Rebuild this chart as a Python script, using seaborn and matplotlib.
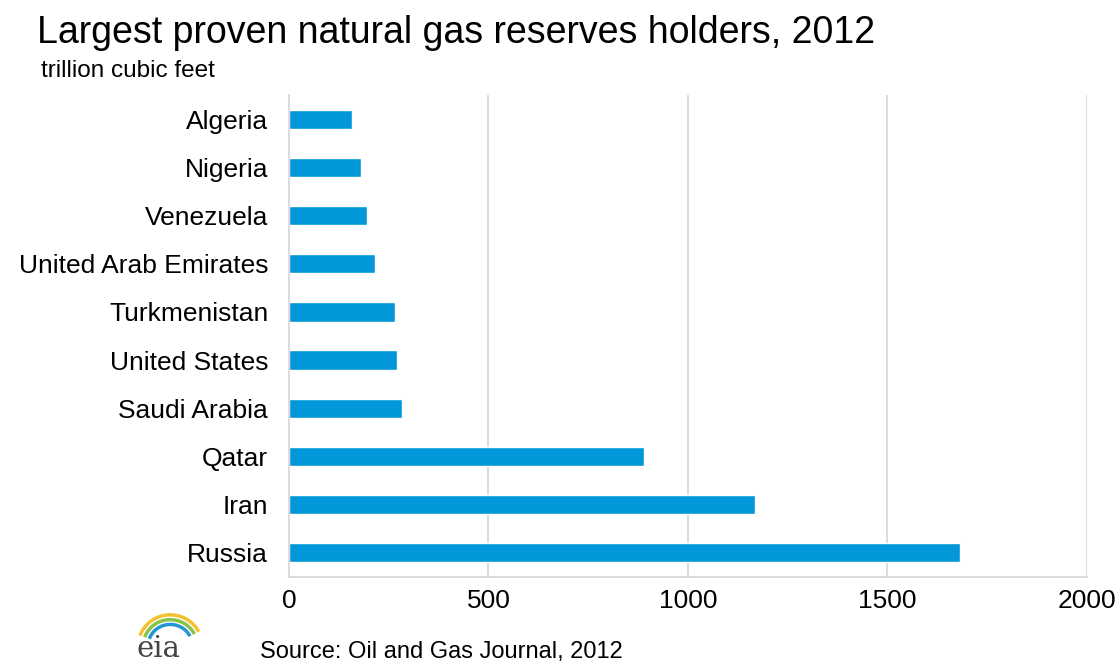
import matplotlib.pyplot as plt
import matplotlib.patches as mpatches
import seaborn as sns
import pandas as pd

# values (trillion cubic feet)
countries = ['Algeria', 'Nigeria', 'Venezuela', 'United Arab Emirates', 'Turkmenistan',
             'United States', 'Saudi Arabia', 'Qatar', 'Iran', 'Russia']
reserves = [159, 180, 195, 215, 265, 272, 283, 889, 1168, 1683]
x_ticks = [0, 500, 1000, 1500, 2000]

df = pd.DataFrame({'country': countries, 'reserves': reserves})

sns.set_style('white')
plt.rcParams['font.family'] = ['Liberation Sans', 'DejaVu Sans']
plt.rcParams['text.color'] = '#000000'
plt.rcParams['xtick.labelcolor'] = '#000000'
plt.rcParams['ytick.labelcolor'] = '#000000'

fig = plt.figure(figsize=(11.2, 6.66), dpi=100)
ax = fig.add_axes([0.258, 0.134, 0.7125, 0.723])

sns.barplot(data=df, x='reserves', y='country', orient='h', color='#0197D8',
            saturation=1, width=0.4, ax=ax)

ax.set_xlim(0, 2000)
ax.set_xticks(x_ticks)
ax.set_xticklabels([str(t) for t in x_ticks], fontsize=19)
ax.tick_params(axis='y', labelsize=19, length=0, pad=15)
ax.tick_params(axis='x', length=5, color='#D9D9D9', pad=4)
ax.set_xlabel('')
ax.set_ylabel('')
ax.xaxis.grid(True, color='#D9D9D9', linewidth=1.3)
ax.set_axisbelow(True)
for s in ['top', 'right']:
    ax.spines[s].set_visible(False)
for s in ['left', 'bottom']:
    ax.spines[s].set_color('#D9D9D9')
    ax.spines[s].set_linewidth(1.3)

fig.text(0.033, 0.935, 'Largest proven natural gas reserves holders, 2012', fontsize=27)
fig.text(0.037, 0.885, 'trillion cubic feet', fontsize=17.5)
fig.text(0.232, 0.012, 'Source: Oil and Gas Journal, 2012', fontsize=17)

# eia logo (rough)
fig.text(0.122, 0.014, 'eia', fontsize=21, family='DejaVu Serif', color='#444444')
for r, c in [(0.026, '#F2C12E'), (0.022, '#8BC34A'), (0.018, '#2196D3')]:
    fig.patches.append(mpatches.Arc((0.152, 0.03), r * 2.2, r * 3.6, theta1=40, theta2=150,
                                    transform=fig.transFigure, color=c, linewidth=2.5))

fig.savefig('out.png', dpi=100)
